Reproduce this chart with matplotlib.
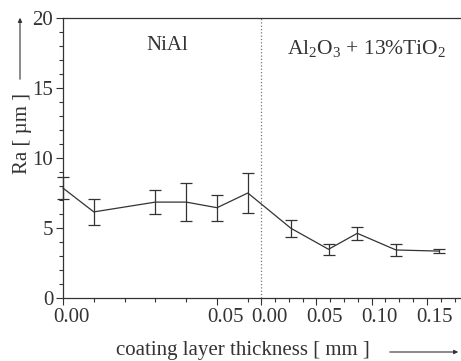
import numpy as np
import matplotlib.pyplot as plt
from matplotlib.transforms import ScaledTranslation

""" Data read off the figure """
# NiAl bond coat
nial_t = [0.00, 0.01, 0.03, 0.04, 0.05, 0.06]
nial_ra = [7.85, 6.15, 6.85, 6.85, 6.45, 7.5]
nial_err = [0.8, 0.9, 0.87, 1.33, 0.92, 1.45]

# Al2O3 + 13% TiO2 top coat
oxide_t = [0.027, 0.061, 0.087, 0.122, 0.161]
oxide_ra = [4.98, 3.48, 4.62, 3.43, 3.35]
oxide_err = [0.6, 0.4, 0.48, 0.4, 0.15]

left_ticks = [0.00, 0.05]
right_ticks = [0.00, 0.05, 0.10, 0.15]

""" The two thickness scales share one x axis """
split = 0.0643     # where the oxide scale starts
ratio = 0.359      # oxide scale compression
x_end = 0.1292


def oxide_pos(t):
    return split + np.asarray(t) * ratio


plt.rcParams['font.family'] = ['Liberation Serif', 'DejaVu Serif']
plt.rcParams['mathtext.fontset'] = 'custom'
plt.rcParams['mathtext.rm'] = 'Liberation Serif'
plt.rcParams['mathtext.it'] = 'Liberation Serif:italic'

ink = '#333333'
fig = plt.figure(figsize=(4.61, 3.61), dpi=100)
ax = fig.add_axes([63 / 461, 63 / 361, 398 / 461, 280 / 361])

x_all = np.concatenate([nial_t, oxide_pos(oxide_t)])
y_all = np.concatenate([nial_ra, oxide_ra])
e_all = np.concatenate([nial_err, oxide_err])
ax.errorbar(x_all, y_all, yerr=e_all, color=ink, lw=0.9, elinewidth=0.9,
            capsize=4, capthick=0.9, clip_on=False, zorder=3)

ax.axvline(split, color='#777777', ls=':', lw=0.9)

ax.set_xlim(0, x_end)
ax.set_ylim(0, 20)

# x ticks
major = list(left_ticks) + list(oxide_pos(right_ticks))
labels = ['%.2f' % t for t in left_ticks] + ['%.2f' % t for t in right_ticks]
ax.set_xticks(major)
ax.set_xticklabels(labels)
minor = list(np.arange(0.01, 0.065, 0.01)) + list(oxide_pos(np.arange(0.0125, 0.18, 0.0125)))
ax.set_xticks(minor, minor=True)

ax.set_yticks([0, 5, 10, 15, 20])
ax.set_yticks(np.arange(0, 21, 1), minor=True)

ax.tick_params(which='both', direction='out', colors=ink, labelsize=15, width=0.8)
ax.tick_params(which='major', length=5)
ax.tick_params(which='minor', length=3)
ax.tick_params(axis='x', pad=2)
ax.tick_params(axis='y', pad=2)

# labels sit a little to the right of their ticks in the original
shift = ScaledTranslation(8 / 100, 0, fig.dpi_scale_trans)
for lab in ax.get_xticklabels():
    lab.set_transform(lab.get_transform() + shift)

for side in ['left', 'bottom', 'top']:
    ax.spines[side].set_color(ink)
    ax.spines[side].set_linewidth(0.9)
ax.spines['right'].set_visible(False)

ax.text(0.034, 18.05, 'NiAl', fontsize=15, color=ink, ha='center', va='center')
ax.text(oxide_pos(0.095), 17.85, r'Al$_\mathrm{2}$O$_\mathrm{3}$ + 13%TiO$_\mathrm{2}$',
        fontsize=15.5, color=ink, ha='center', va='center')

""" Axis titles with arrows """
fig.text(22 / 461, 1 - 134 / 361, 'Ra [ µm ]', rotation=90, fontsize=15,
         color=ink, ha='center', va='center')
ax.annotate('', xy=(20, 346), xytext=(20, 279), xycoords='figure pixels',
            textcoords='figure pixels',
            arrowprops=dict(arrowstyle='-|>', color=ink, lw=0.8, mutation_scale=6))

fig.text(243 / 461, 11 / 361, 'coating layer thickness [ mm ]', fontsize=15,
         color=ink, ha='center', va='center')
ax.annotate('', xy=(461, 9), xytext=(387, 9), xycoords='figure pixels',
            textcoords='figure pixels',
            arrowprops=dict(arrowstyle='-|>', color=ink, lw=0.8, mutation_scale=6))

fig.savefig('out.png', dpi=100)
